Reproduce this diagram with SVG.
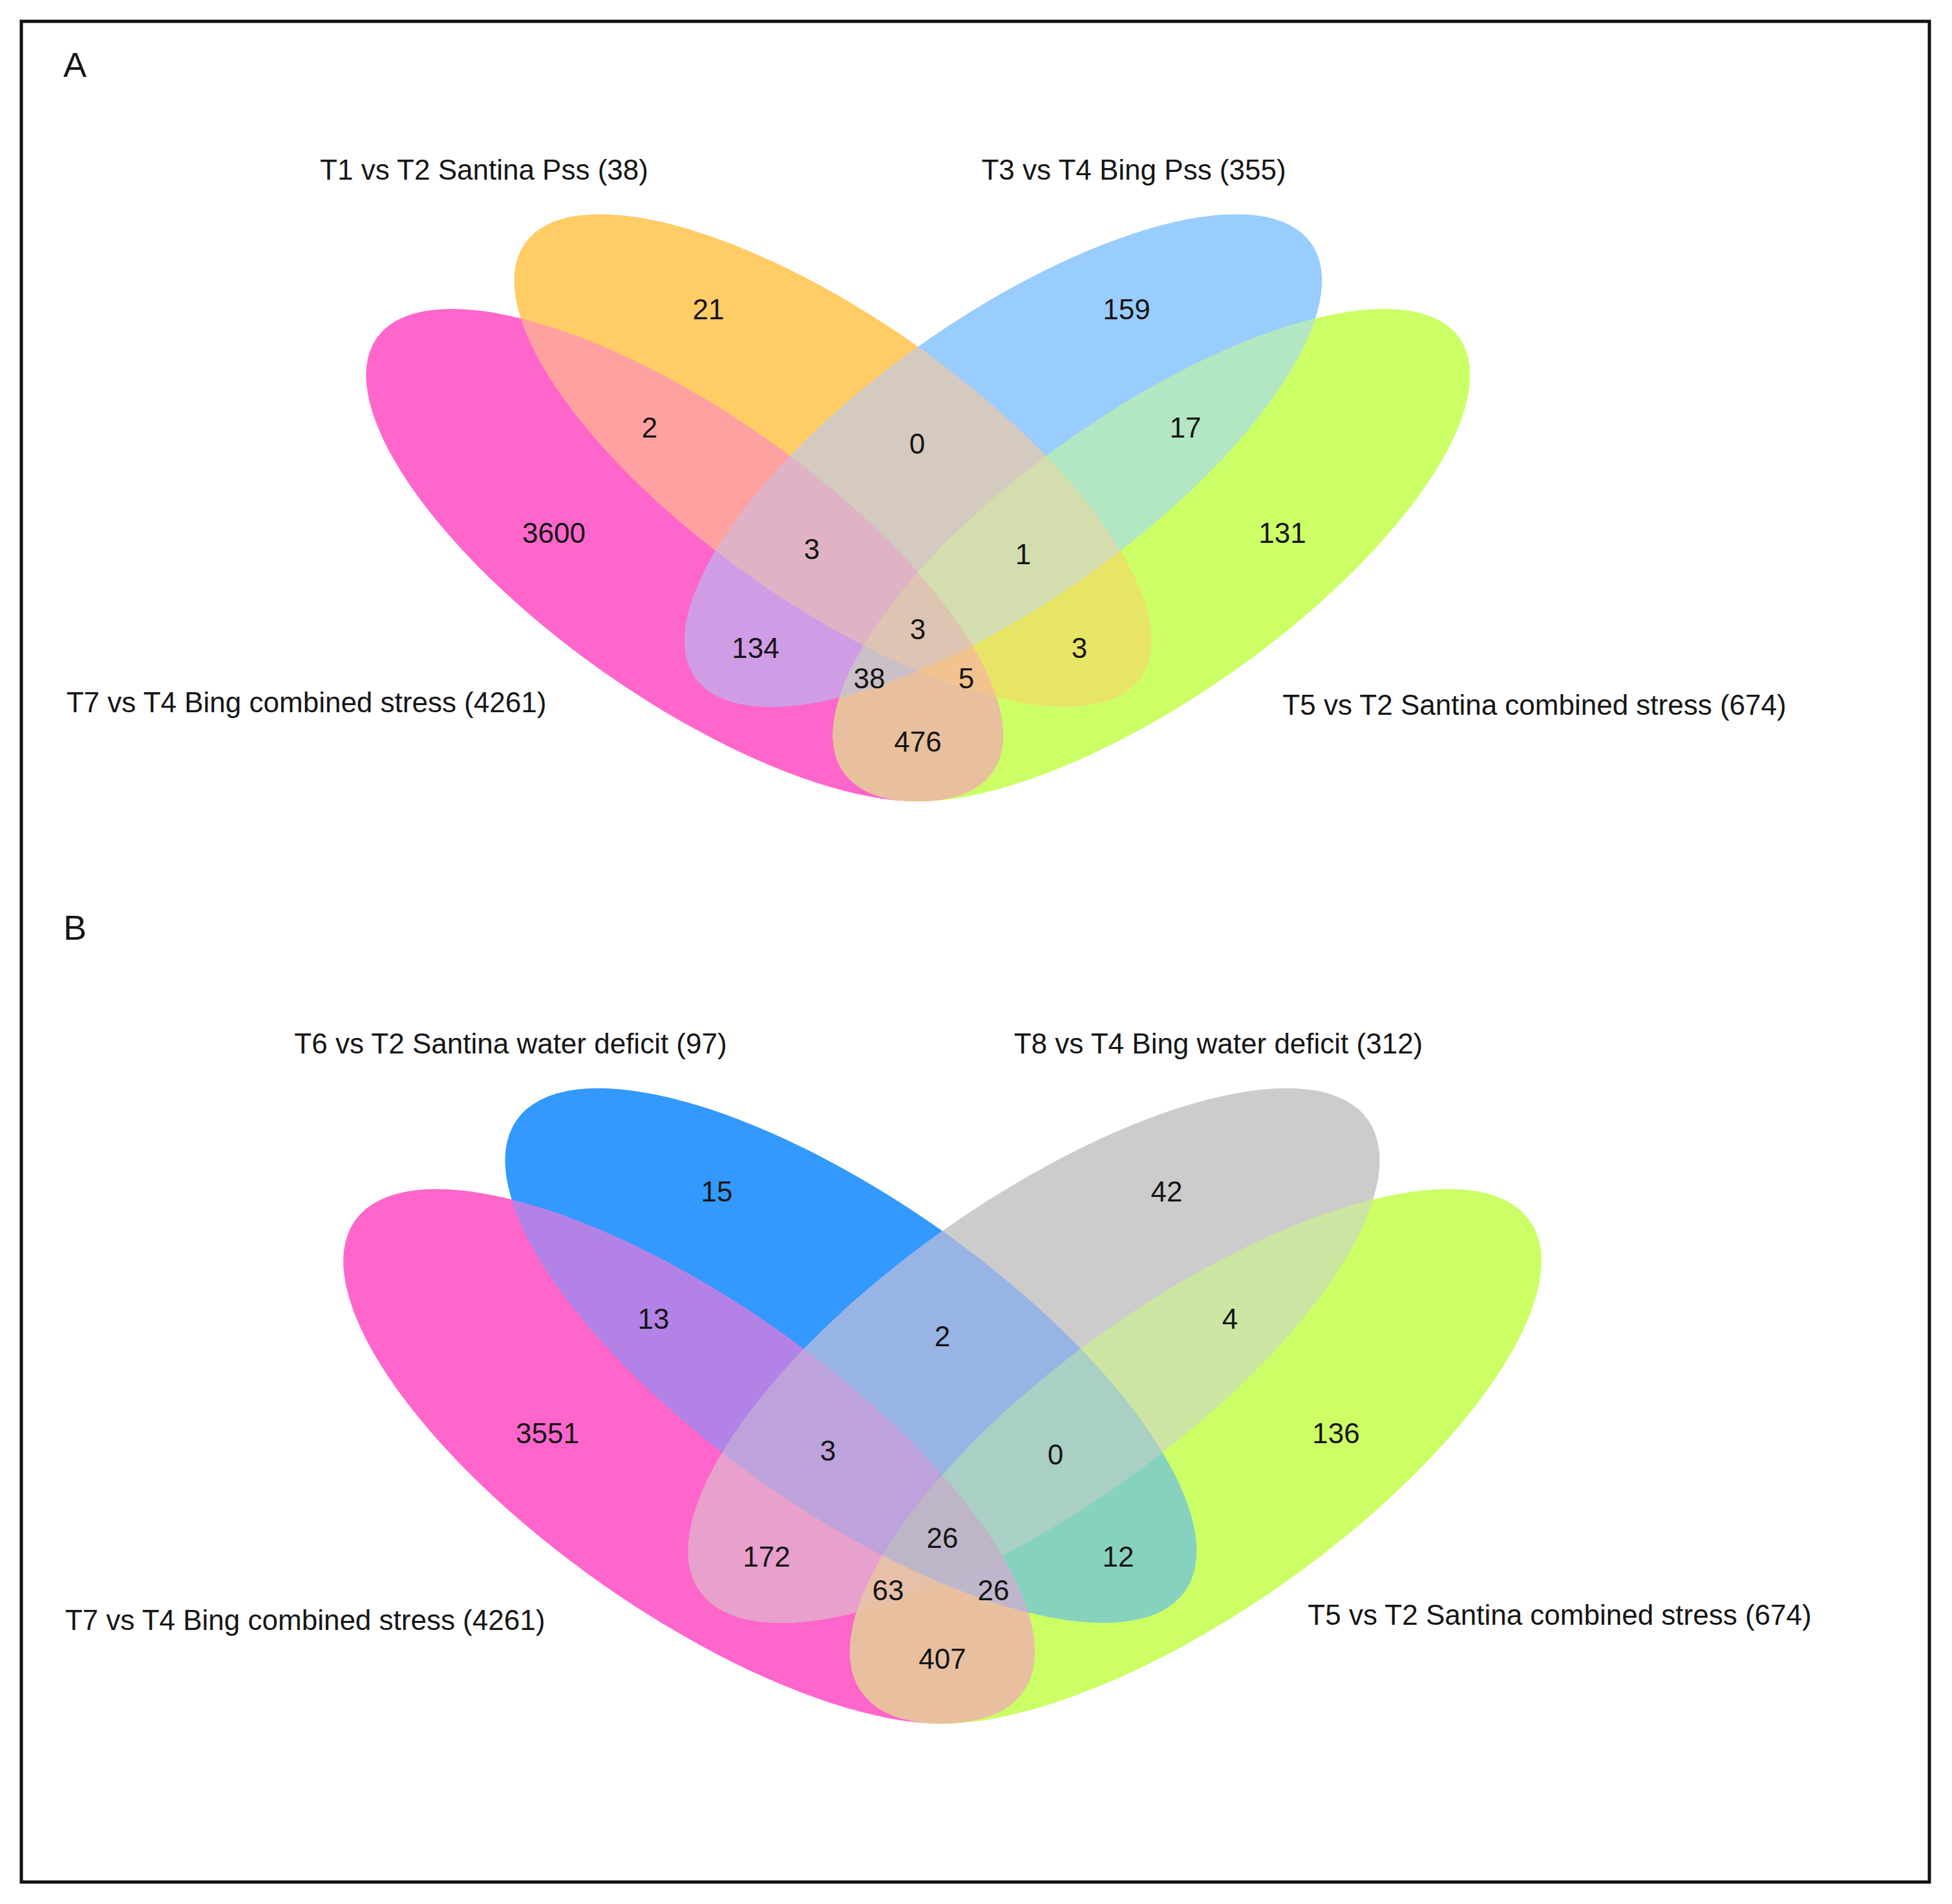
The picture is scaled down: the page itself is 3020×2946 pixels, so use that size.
<svg xmlns="http://www.w3.org/2000/svg" xmlns:xlink="http://www.w3.org/1999/xlink" width="3020" height="2946" viewBox="0 0 3020 2946">
<style>
  .t{font-family:"Liberation Sans",Arial,sans-serif;font-size:44px;fill:#151515;text-anchor:middle}
  .letter{font-family:"Liberation Sans",Arial,sans-serif;font-size:54px;fill:#151515}
</style>
<defs>
  <!-- Panel A sets -->
  <ellipse id="eA_p" cx="1059.3" cy="859" rx="583" ry="220" transform="rotate(35.2 1059.3 859)"/>
  <ellipse id="eA_o" cx="1288.5" cy="712.6" rx="583" ry="220" transform="rotate(35.2 1288.5 712.6)"/>
  <ellipse id="eA_b" cx="1552.3" cy="712.6" rx="583" ry="220" transform="rotate(-35.2 1552.3 712.6)"/>
  <ellipse id="eA_g" cx="1781.5" cy="859" rx="583" ry="220" transform="rotate(-35.2 1781.5 859)"/>
  <clipPath id="cA_p"><ellipse cx="1059.3" cy="859" rx="583" ry="220" transform="rotate(35.2 1059.3 859)"/></clipPath>
  <clipPath id="cA_o"><ellipse cx="1288.5" cy="712.6" rx="583" ry="220" transform="rotate(35.2 1288.5 712.6)"/></clipPath>
  <clipPath id="cA_b"><ellipse cx="1552.3" cy="712.6" rx="583" ry="220" transform="rotate(-35.2 1552.3 712.6)"/></clipPath>
  <clipPath id="cA_g"><ellipse cx="1781.5" cy="859" rx="583" ry="220" transform="rotate(-35.2 1781.5 859)"/></clipPath>
  <!-- Panel B sets -->
  <ellipse id="eB_p" cx="1066.1" cy="2253.4" rx="632.6" ry="239" transform="rotate(35.2 1066.1 2253.4)"/>
  <ellipse id="eB_b" cx="1316.4" cy="2097.4" rx="632.6" ry="239" transform="rotate(35.2 1316.4 2097.4)"/>
  <ellipse id="eB_y" cx="1599.6" cy="2097.4" rx="632.6" ry="239" transform="rotate(-35.2 1599.6 2097.4)"/>
  <ellipse id="eB_g" cx="1849.9" cy="2253.4" rx="632.6" ry="239" transform="rotate(-35.2 1849.9 2253.4)"/>
  <clipPath id="cB_p"><ellipse cx="1066.1" cy="2253.4" rx="632.6" ry="239" transform="rotate(35.2 1066.1 2253.4)"/></clipPath>
  <clipPath id="cB_b"><ellipse cx="1316.4" cy="2097.4" rx="632.6" ry="239" transform="rotate(35.2 1316.4 2097.4)"/></clipPath>
  <clipPath id="cB_y"><ellipse cx="1599.6" cy="2097.4" rx="632.6" ry="239" transform="rotate(-35.2 1599.6 2097.4)"/></clipPath>
  <clipPath id="cB_g"><ellipse cx="1849.9" cy="2253.4" rx="632.6" ry="239" transform="rotate(-35.2 1849.9 2253.4)"/></clipPath>
</defs>

<rect x="0" y="0" width="3020" height="2946" fill="#ffffff"/>
<rect id="frame" x="33" y="33" width="2952" height="2879" fill="none" stroke="#111111" stroke-width="5"/>

<g id="panelA">
  <text class="letter" x="98" y="119">A</text>
  <g id="A-regions">
    <!-- single sets -->
    <use xlink:href="#eA_p" fill="#FF66CC"/>
    <use xlink:href="#eA_o" fill="#FFCC66"/>
    <use xlink:href="#eA_b" fill="#99CCFF"/>
    <use xlink:href="#eA_g" fill="#CCFF66"/>
    <!-- pairs -->
    <g clip-path="url(#cA_o)"><use xlink:href="#eA_p" fill="#FFA1A1"/></g>
    <g clip-path="url(#cA_b)"><use xlink:href="#eA_p" fill="#D19CE6"/></g>
    <g clip-path="url(#cA_g)"><use xlink:href="#eA_p" fill="#E8C09E"/></g>
    <g clip-path="url(#cA_b)"><use xlink:href="#eA_o" fill="#D4CAC0"/></g>
    <g clip-path="url(#cA_g)"><use xlink:href="#eA_o" fill="#E8E466"/></g>
    <g clip-path="url(#cA_g)"><use xlink:href="#eA_b" fill="#B3E6C3"/></g>
    <!-- triples -->
    <g clip-path="url(#cA_o)"><g clip-path="url(#cA_b)"><use xlink:href="#eA_p" fill="#DFB2C6"/></g></g>
    <g clip-path="url(#cA_o)"><g clip-path="url(#cA_g)"><use xlink:href="#eA_p" fill="#F2C38E"/></g></g>
    <g clip-path="url(#cA_b)"><g clip-path="url(#cA_g)"><use xlink:href="#eA_p" fill="#CBBFC8"/></g></g>
    <g clip-path="url(#cA_b)"><g clip-path="url(#cA_g)"><use xlink:href="#eA_o" fill="#D4DDAE"/></g></g>
    <!-- all four -->
    <g clip-path="url(#cA_o)"><g clip-path="url(#cA_b)"><g clip-path="url(#cA_g)"><use xlink:href="#eA_p" fill="#DEC4B2"/></g></g></g>
  </g>
  <g id="A-counts">
    <text class="t" x="1096" y="494">21</text>
    <text class="t" x="1743" y="494">159</text>
    <text class="t" x="1005" y="677">2</text>
    <text class="t" x="1419" y="702">0</text>
    <text class="t" x="1834" y="677">17</text>
    <text class="t" x="857" y="840">3600</text>
    <text class="t" x="1256" y="865">3</text>
    <text class="t" x="1583" y="873">1</text>
    <text class="t" x="1984" y="840">131</text>
    <text class="t" x="1420" y="989">3</text>
    <text class="t" x="1169" y="1018">134</text>
    <text class="t" x="1670" y="1018">3</text>
    <text class="t" x="1345" y="1065">38</text>
    <text class="t" x="1495" y="1065">5</text>
    <text class="t" x="1420" y="1163">476</text>
  </g>
  <g id="A-labels">
    <text class="t" x="749" y="278">T1 vs T2 Santina Pss (38)</text>
    <text class="t" x="1754" y="278">T3 vs T4 Bing Pss (355)</text>
    <text class="t" x="474" y="1102">T7 vs T4 Bing combined stress (4261)</text>
    <text class="t" x="2374" y="1106">T5 vs T2 Santina combined stress (674)</text>
  </g>
</g>

<g id="panelB">
  <text class="letter" x="98" y="1454">B</text>
  <g id="B-regions">
    <use xlink:href="#eB_p" fill="#FF66CC"/>
    <use xlink:href="#eB_b" fill="#3399FF"/>
    <use xlink:href="#eB_y" fill="#CCCCCC"/>
    <use xlink:href="#eB_g" fill="#CCFF66"/>
    <!-- pairs -->
    <g clip-path="url(#cB_b)"><use xlink:href="#eB_p" fill="#B382E6"/></g>
    <g clip-path="url(#cB_y)"><use xlink:href="#eB_p" fill="#E8A0CC"/></g>
    <g clip-path="url(#cB_g)"><use xlink:href="#eB_p" fill="#E8C0A0"/></g>
    <g clip-path="url(#cB_y)"><use xlink:href="#eB_b" fill="#98B4E4"/></g>
    <g clip-path="url(#cB_g)"><use xlink:href="#eB_b" fill="#86D2BE"/></g>
    <g clip-path="url(#cB_g)"><use xlink:href="#eB_y" fill="#CCE5A2"/></g>
    <!-- triples -->
    <g clip-path="url(#cB_b)"><g clip-path="url(#cB_y)"><use xlink:href="#eB_p" fill="#BEA2DC"/></g></g>
    <g clip-path="url(#cB_b)"><g clip-path="url(#cB_g)"><use xlink:href="#eB_p" fill="#C0B6CC"/></g></g>
    <g clip-path="url(#cB_y)"><g clip-path="url(#cB_g)"><use xlink:href="#eB_p" fill="#E6C0A8"/></g></g>
    <g clip-path="url(#cB_y)"><g clip-path="url(#cB_g)"><use xlink:href="#eB_b" fill="#AACFC4"/></g></g>
    <!-- all four -->
    <g clip-path="url(#cB_b)"><g clip-path="url(#cB_y)"><g clip-path="url(#cB_g)"><use xlink:href="#eB_p" fill="#BEB6C8"/></g></g></g>
  </g>
  <g id="B-counts">
    <text class="t" x="1109" y="1859">15</text>
    <text class="t" x="1805" y="1859">42</text>
    <text class="t" x="1011" y="2056">13</text>
    <text class="t" x="1458" y="2083">2</text>
    <text class="t" x="1903" y="2056">4</text>
    <text class="t" x="847" y="2233">3551</text>
    <text class="t" x="1281" y="2260">3</text>
    <text class="t" x="1633" y="2266">0</text>
    <text class="t" x="2067" y="2233">136</text>
    <text class="t" x="1458" y="2395">26</text>
    <text class="t" x="1186" y="2424">172</text>
    <text class="t" x="1730" y="2424">12</text>
    <text class="t" x="1374" y="2476">63</text>
    <text class="t" x="1537" y="2476">26</text>
    <text class="t" x="1458" y="2582">407</text>
  </g>
  <g id="B-labels">
    <text class="t" x="790" y="1630">T6 vs T2 Santina water deficit (97)</text>
    <text class="t" x="1885" y="1630">T8 vs T4 Bing water deficit (312)</text>
    <text class="t" x="472" y="2522">T7 vs T4 Bing combined stress (4261)</text>
    <text class="t" x="2413" y="2514">T5 vs T2 Santina combined stress (674)</text>
  </g>
</g>
</svg>
